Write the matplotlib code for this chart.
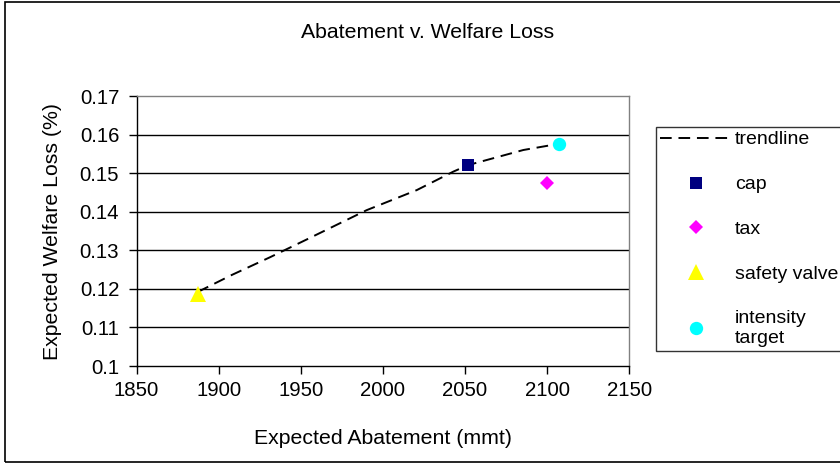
import numpy as np
import matplotlib.pyplot as plt
from matplotlib.patches import Rectangle

plt.rcParams['font.family'] = ['Liberation Sans', 'DejaVu Sans']

# trendline
trend_x = [1887.3, 1908.0, 1931.3, 1953.6, 1990.1, 2020.6, 2042.9, 2052.0, 2085.5, 2107.0]
trend_y = [0.1192, 0.1236, 0.1282, 0.1328, 0.1404, 0.1456, 0.1504, 0.1521, 0.1560, 0.1576]

cap_x, cap_y = [2051.6], [0.1521]
tax_x, tax_y = [2100.0], [0.1475]
sv_x, sv_y = [1887.3], [0.1187]
it_x, it_y = [2107.0], [0.1576]

xticks = [1850, 1900, 1950, 2000, 2050, 2100, 2150]
yticks = [0.1, 0.11, 0.12, 0.13, 0.14, 0.15, 0.16, 0.17]
ytick_labels = ['0.1', '0.11', '0.12', '0.13', '0.14', '0.15', '0.16', '0.17']

fs = 14.7

fig = plt.figure(figsize=(8.4, 4.63), dpi=100)
ax = fig.add_axes([136.5/840, 1 - 366/463, 492.8/840, 270/463])

for t in yticks[1:-1]:
    ax.axhline(t, color='black', lw=1.0, zorder=1)

ax.plot(trend_x, trend_y, color='black', ls=(0, (6, 3.5)), lw=1.4, label='trendline', zorder=2)
ax.plot(cap_x, cap_y, ls='none', marker='s', ms=9.2, mew=0, color='#000080', label='cap', zorder=3)
ax.plot(tax_x, tax_y, ls='none', marker='D', ms=7.5, mew=0, color='#ff00ff', label='tax', zorder=3)
ax.plot(sv_x, sv_y, ls='none', marker='^', ms=11, mew=0, color='#ffff00', label='safety valve', zorder=3)
ax.plot(it_x, it_y, ls='none', marker='o', ms=9.6, mew=0, color='#00ffff', label='intensity\ntarget', zorder=3)

ax.set_xlim(1850, 2150)
ax.set_ylim(0.1, 0.17)
ax.set_xticks(xticks)
ax.set_yticks(yticks)
ax.set_yticklabels(ytick_labels)
ax.tick_params(direction='out', length=5.5, width=1, labelsize=fs, color='black')
ax.tick_params(axis='x', pad=5)
ax.tick_params(axis='y', pad=7)

for s in ['top', 'right']:
    ax.spines[s].set_color('#808080')
for s in ['left', 'bottom']:
    ax.spines[s].set_color('black')
for s in ax.spines.values():
    s.set_linewidth(1.0)

ax.set_xlabel('Expected Abatement (mmt)', fontsize=15.3, va='center')
ax.xaxis.set_label_coords((383 - 136.5) / 492.8, (366 - 438) / 270)
ax.set_ylabel('Expected Welfare Loss (%)', fontsize=15.3, va='center')
ax.yaxis.set_label_coords((53 - 136.5) / 492.8, 0.5)
fig.text(428/840, 1 - 33/463, 'Abatement v. Welfare Loss', fontsize=15.3,
         ha='center', va='center')

leg_h = 0.1
leg = fig.legend(loc='upper left', bbox_to_anchor=(656/840, 1 - 127/463 - leg_h, 220/840, leg_h),
                 mode='expand', borderaxespad=0, fontsize=14.0, frameon=True, fancybox=False,
                 edgecolor='black', handlelength=3.7, labelspacing=1.4,
                 borderpad=0.2, handletextpad=0.15, numpoints=1)
leg.get_frame().set_linewidth(1.0)

fig.patches.append(Rectangle((5/840, 1/463), 1.0, 1 - 3/463, transform=fig.transFigure,
                             fill=False, edgecolor='black', lw=1.2))

fig.savefig('out.png', dpi=100)
